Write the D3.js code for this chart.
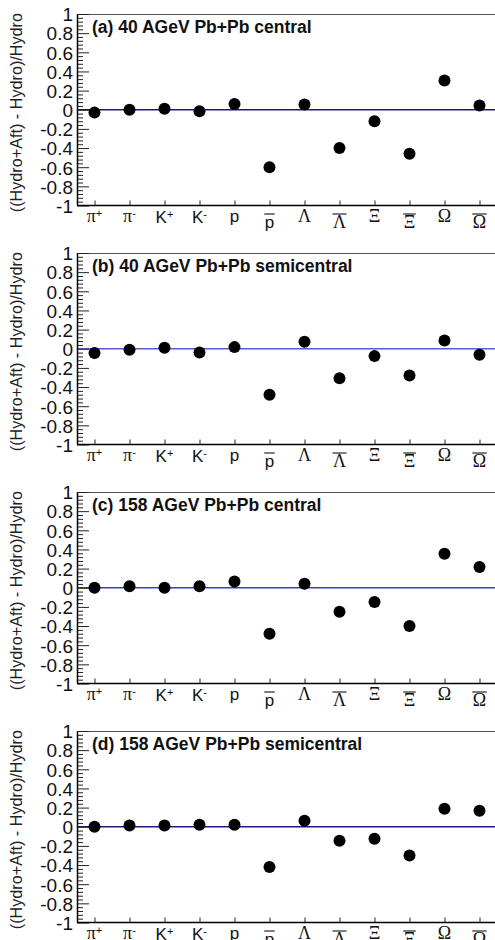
<!DOCTYPE html>
<html><head><meta charset="utf-8">
<script src="https://cdn.jsdelivr.net/npm/d3@7"></script>
<style>html,body{margin:0;padding:0;background:#fff;overflow:hidden}</style>
</head><body>
<svg id="c" width="495" height="940"></svg>
<script>
// ---- data ----
const categories = ["π+","π-","K+","K-","p","p̄","Λ","Λ̄","Ξ","Ξ̄","Ω","Ω̄"];
const labelBase = ["π","π","K","K","p","p","Λ","Λ","Ξ","Ξ","Ω","Ω"];
const labelSup  = ["+","-","+","-","","","","","","","",""];
const labelBar  = [false,false,false,false,false,true,false,true,false,true,false,true];
const panelTitles = [
  "(a) 40 AGeV Pb+Pb central",
  "(b) 40 AGeV Pb+Pb semicentral",
  "(c) 158 AGeV Pb+Pb central",
  "(d) 158 AGeV Pb+Pb semicentral"
];
const valuesA = [-0.03, 0.00, 0.01, -0.015, 0.06, -0.60, 0.055, -0.40, -0.12, -0.46, 0.306, 0.044];
const valuesB = [-0.045, -0.01, 0.01, -0.04, 0.017, -0.48, 0.073, -0.307, -0.077, -0.28, 0.087, -0.063];
const valuesC = [0.00, 0.015, 0.00, 0.015, 0.066, -0.48, 0.042, -0.25, -0.15, -0.40, 0.355, 0.216];
const valuesD = [0.00, 0.014, 0.014, 0.02, 0.02, -0.42, 0.063, -0.146, -0.125, -0.30, 0.188, 0.167];
const panelValues = [valuesA, valuesB, valuesC, valuesD];
const zeroLineColors = ["#1a1a86", "#5a5ad2", "#3c3cd0", "#1a1a86"];
const yMajorTicks = [-1,-0.8,-0.6,-0.4,-0.2,0,0.2,0.4,0.6,0.8,1];
const yTickLabels = ["-1","-0.8","-0.6","-0.4","-0.2","0","0.2","0.4","0.6","0.8","1"];
const yTitle = "((Hydro+Aft) -  Hydro)/Hydro";

// ---- layout ----
const svg = d3.select("#c");
const left = 77, right = 497;
const panelTop0 = 14, panelStep = 239, panelH = 191.5;
const sans = "'Liberation Sans', Arial, sans-serif";
const serif = "'Liberation Serif', 'Times New Roman', serif";

const x = d3.scalePoint().domain(categories).range([left, right]).padding(0.5);

panelValues.forEach((vals, pi) => {
  const top = panelTop0 + pi*panelStep;
  const bottom = top + panelH;
  const y = d3.scaleLinear().domain([-1, 1]).range([bottom, top]);
  const g = svg.append("g");

  // frame top line
  g.append("line").attr("x1", left).attr("x2", 495).attr("y1", top+0.5).attr("y2", top+0.5)
    .attr("stroke", "#555").attr("stroke-width", 1.2);

  // zero line
  g.append("line").attr("x1", left).attr("x2", 495)
    .attr("y1", y(0)).attr("y2", y(0))
    .attr("stroke", zeroLineColors[pi]).attr("stroke-width", 1.3);

  // y axis (inward ticks)
  const minorTicks = d3.range(-1, 1.0001, 0.04).map(v => +v.toFixed(2))
    .filter(v => !yMajorTicks.some(m => Math.abs(m - v) < 1e-6));
  const yAxisMinor = d3.axisRight(y).tickValues(minorTicks).tickSize(6).tickFormat("");
  g.append("g").attr("transform", `translate(${left},0)`).call(yAxisMinor)
    .call(s => s.select(".domain").remove())
    .selectAll("line").attr("stroke", "#222");
  const yAxis = d3.axisRight(y).tickValues(yMajorTicks).tickSize(12)
    .tickFormat((d,i) => yTickLabels[i]);
  const ya = g.append("g").attr("transform", `translate(${left},0)`).call(yAxis);
  ya.select(".domain").attr("stroke", "#000").attr("stroke-width", 1.5)
    .attr("d", `M0.5,${top}V${bottom}`);
  ya.selectAll(".tick line").attr("stroke", "#222");
  ya.selectAll(".tick text").attr("x", -4).attr("dy", "0.36em")
    .attr("text-anchor", "end").style("font-family", sans).style("font-size", "19px")
    .attr("fill", "#111");

  // x axis
  const xAxis = d3.axisTop(x).tickSize(5).tickFormat("");
  const xa = g.append("g").attr("transform", `translate(0,${bottom})`).call(xAxis);
  xa.select(".domain").attr("d", `M${left},0H495`).attr("stroke", "#000").attr("stroke-width", 1.6);
  xa.selectAll(".tick line").attr("stroke", "#222");

  // category labels
  categories.forEach((c, i) => {
    const cx = x(c);
    const bar = labelBar[i];
    const base = labelBase[i];
    const isSerif = (base === "π" || base === "Λ" || base === "Ξ" || base === "Ω");
    const by = bottom + (bar ? 22 : (base === "K" ? 17.5 : 16));
    const t = g.append("text").attr("x", cx).attr("y", by)
      .attr("text-anchor", "middle")
      .style("font-family", isSerif ? serif : sans)
      .style("font-size", isSerif ? "18px" : "17px")
      .attr("fill", "#111");
    t.append("tspan").text(base);
    if (labelSup[i]) {
      t.append("tspan").attr("dy", "-0.45em").style("font-size", "11px")
        .style("font-family", sans).text(labelSup[i] === "-" ? "-" : "+");
    }
    if (bar) {
      const w = t.node().getComputedTextLength();
      g.append("line").attr("x1", cx - w/2 - 0.5).attr("x2", cx + w/2 + 0.5)
        .attr("y1", bottom + 8.5).attr("y2", bottom + 8.5)
        .attr("stroke", "#111").attr("stroke-width", 1.1);
    }
  });

  // markers
  g.selectAll("circle.pt").data(vals).join("circle").attr("class", "pt")
    .attr("cx", (d,i) => x(categories[i])).attr("cy", d => y(d))
    .attr("r", 6).attr("fill", "#000");

  // panel title
  g.append("text").attr("x", 92).attr("y", top + 19)
    .style("font-family", sans).style("font-weight", "bold").style("font-size", "17.5px")
    .attr("fill", "#111").text(panelTitles[pi]);

  // y title
  g.append("text")
    .attr("transform", `translate(22,${top - 1}) rotate(-90)`)
    .attr("text-anchor", "end")
    .style("font-family", sans).style("font-size", "16.2px")
    .attr("fill", "#222").text(yTitle);
});
</script>
</body></html>
